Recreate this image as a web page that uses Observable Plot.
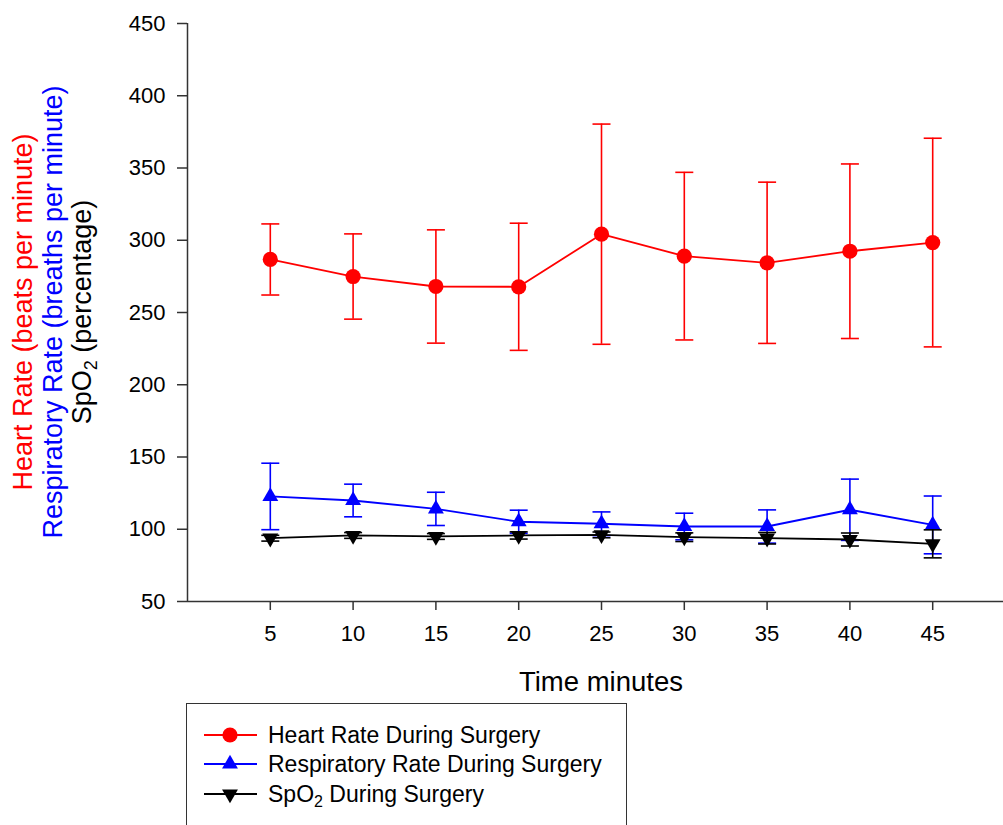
<!DOCTYPE html>
<html><head><meta charset="utf-8">
<script src="https://cdn.jsdelivr.net/npm/d3@7"></script>
<script src="https://cdn.jsdelivr.net/npm/@observablehq/plot@0.6"></script>
<style>
html,body{margin:0;padding:0;overflow:hidden;background:#fff;width:1003px;height:825px}
#wrap{position:relative;width:1003px;height:825px;overflow:hidden;font-family:Arial,"Liberation Sans",sans-serif}
#chart{position:absolute;left:0;top:0;width:1015px}
#chart svg{max-width:none !important}
#legend{position:absolute;left:186px;top:703px;width:441px;height:140px;border:1.5px solid #333;box-sizing:border-box;background:#fff}
.row{position:absolute;left:0;height:30px;width:440px}
.row svg{position:absolute;left:0;top:0}
.row span{position:absolute;left:81px;top:0;line-height:30px;font-size:23px;color:#000;white-space:nowrap}
</style>
</head><body>
<div id="wrap"><div id="chart"></div><div id="legend"></div></div>
<script>
// ---- data ----
const minutes = [5, 10, 15, 20, 25, 30, 35, 40, 45];
const xTicks = [5, 10, 15, 20, 25, 30, 35, 40, 45];
const yTicks = [50, 100, 150, 200, 250, 300, 350, 400, 450];

const hrMean = [286.7, 274.9, 268.0, 267.8, 304.2, 289.0, 284.4, 292.4, 298.4];
const hrSD   = [24.6, 29.5, 39.2, 44.0, 76.2, 58.0, 55.8, 60.4, 72.2];

const rrMean = [122.7, 119.9, 114.1, 105.2, 103.8, 101.9, 101.9, 113.5, 103.0];
const rrSD   = [23.0, 11.3, 11.5, 8.0, 8.2, 9.2, 11.5, 21.2, 20.0];

const spMean = [93.8, 95.7, 95.0, 95.7, 96.1, 94.5, 93.8, 92.9, 89.9];
const spSD   = [2.0, 2.0, 2.0, 2.5, 2.0, 3.0, 4.0, 4.5, 9.7];

const seriesNames = ["Heart Rate During Surgery", "Respiratory Rate During Surgery", "SpO2 During Surgery"];
const seriesColors = ["#ff0000", "#0000ff", "#000000"];

// ---- symbols ----
const triangleDown = {
  draw(context, size) {
    const y = -Math.sqrt(size / (Math.sqrt(3) * 3));
    context.moveTo(0, -y * 2);
    context.lineTo(-Math.sqrt(3) * y, y);
    context.lineTo(Math.sqrt(3) * y, y);
    context.closePath();
  }
};
const capSymbol = {
  draw(context, size) {
    const w = Math.sqrt(size / Math.PI);
    context.moveTo(-w, 0);
    context.lineTo(w, 0);
  }
};
const seriesSymbols = [d3.symbolCircle, d3.symbolTriangle, triangleDown];
const seriesR = [7.6, 5.9, 5.9];

const means = [hrMean, rrMean, spMean];
const sds = [hrSD, rrSD, spSD];
const series = means.map((m, k) => minutes.map((t, i) => ({
  t, mean: m[i], lo: m[i] - sds[k][i], hi: m[i] + sds[k][i]
})));

const marks = [];
series.forEach((rows, k) => {
  const c = seriesColors[k];
  marks.push(
    Plot.ruleX(rows, {x: "t", y1: "lo", y2: "hi", stroke: c, strokeWidth: 1.6}),
    Plot.dot(rows, {x: "t", y: "hi", symbol: capSymbol, r: 9, stroke: c, fill: "none", strokeWidth: 1.6}),
    Plot.dot(rows, {x: "t", y: "lo", symbol: capSymbol, r: 9, stroke: c, fill: "none", strokeWidth: 1.6}),
    Plot.line(rows, {x: "t", y: "mean", stroke: c, strokeWidth: 1.8}),
    Plot.dot(rows, {x: "t", y: "mean", symbol: seriesSymbols[k], r: seriesR[k], fill: c, stroke: "none"})
  );
});

const plot = Plot.plot({
  width: 1015,
  height: 700,
  marginLeft: 187,
  marginRight: 0,
  marginTop: 23,
  marginBottom: 99,
  style: {fontSize: "22px", fontFamily: "Arial, 'Liberation Sans', sans-serif", color: "#000", background: "#fff", overflow: "visible", maxWidth: "none"},
  x: {domain: [0, 50]},
  y: {domain: [50, 450]},
  marks: [
    Plot.axisX({ticks: xTicks, tickSize: 9, tickPadding: 15, label: null, strokeWidth: 1.5, stroke: "#333"}),
    Plot.axisY({ticks: yTicks, tickSize: 10, tickPadding: 12, label: null, strokeWidth: 1.5, stroke: "#333"}),
    Plot.ruleX([0], {stroke: "#333", strokeWidth: 1.5}),
    Plot.ruleY([50], {stroke: "#333", strokeWidth: 1.5}),
    ...marks
  ]
});
plot.style.maxWidth = "none";
plot.style.width = "1015px";
plot.style.height = "700px";
document.getElementById("chart").appendChild(plot);

// ---- axis titles ----
const svg = d3.select(plot);
const font = "Arial, 'Liberation Sans', sans-serif";
const yMid = 312;
const yl = svg.append("g").attr("font-family", font).attr("font-size", 27).attr("text-anchor", "middle");
yl.append("text").attr("transform", `translate(32,${yMid}) rotate(-90)`).attr("fill", "#ff0000")
  .text("Heart Rate (beats per minute)");
yl.append("text").attr("transform", `translate(62,${yMid}) rotate(-90)`).attr("fill", "#0000ff")
  .text("Respiratory Rate (breaths per minute)");
const sp = yl.append("text").attr("transform", `translate(91,${yMid}) rotate(-90)`).attr("fill", "#000");
sp.append("tspan").text("SpO");
sp.append("tspan").attr("font-size", 18).attr("dy", 6).text("2");
sp.append("tspan").attr("dy", -6).text(" (percentage)");

svg.append("text").attr("x", 601).attr("y", 691).attr("text-anchor", "middle")
  .attr("font-family", font).attr("font-size", 27.5).attr("fill", "#000").text("Time minutes");

// ---- legend ----
const legend = d3.select("#legend");
const rowTops = [16, 45, 75];
seriesNames.forEach((name, k) => {
  const row = legend.append("div").attr("class", "row").style("top", rowTops[k] + "px");
  const s = row.append("svg").attr("width", 80).attr("height", 30);
  s.append("line").attr("x1", 17).attr("x2", 70).attr("y1", 15).attr("y2", 15)
    .attr("stroke", seriesColors[k]).attr("stroke-width", 1.8);
  const size = Math.PI * seriesR[k] * seriesR[k];
  s.append("path").attr("transform", "translate(43,15)")
    .attr("d", d3.symbol(seriesSymbols[k], size)()).attr("fill", seriesColors[k]);
  const span = row.append("span");
  if (k === 2) {
    span.html('SpO<sub style="font-size:16px;vertical-align:-5px">2</sub> During Surgery');
  } else {
    span.text(name);
  }
});
</script>
</body></html>
